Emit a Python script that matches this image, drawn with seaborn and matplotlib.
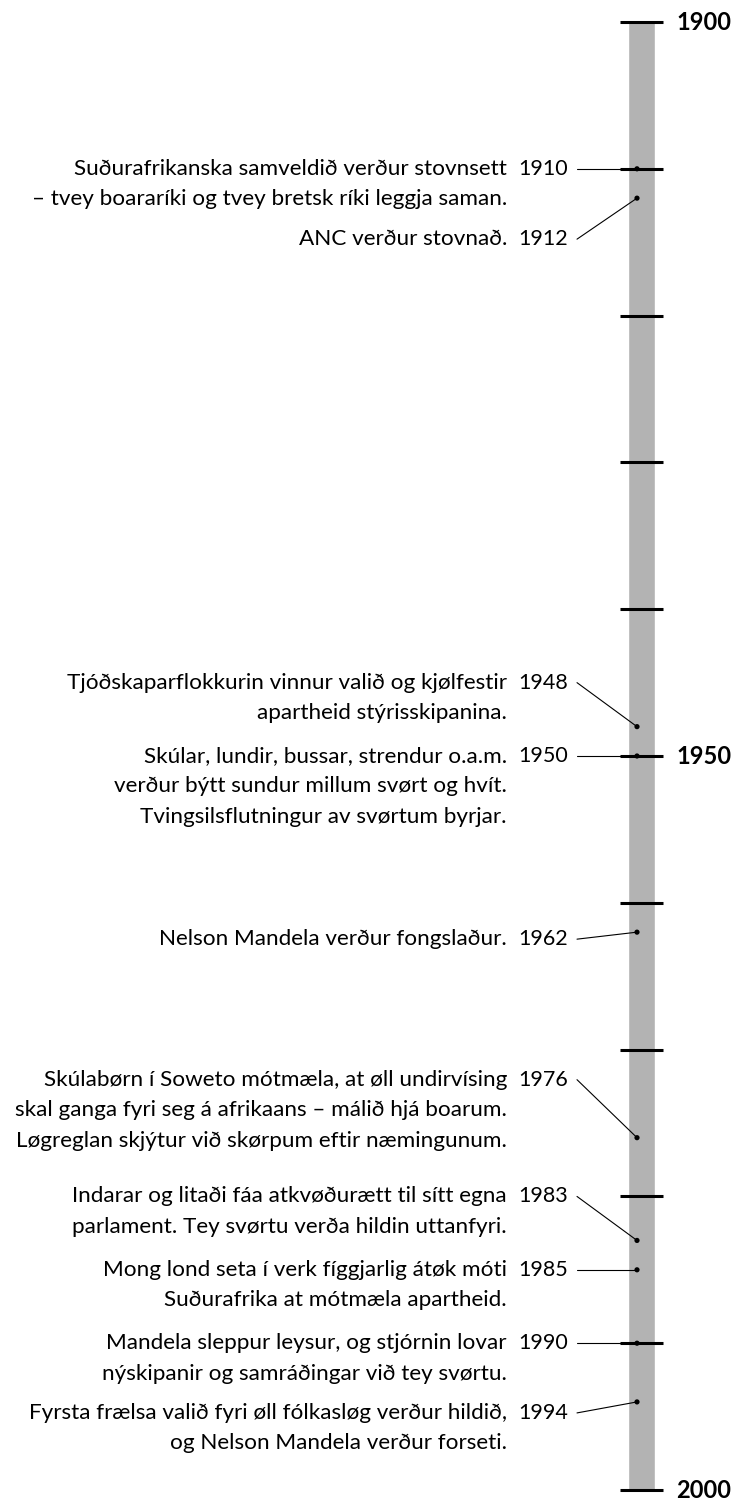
import matplotlib.pyplot as plt
import seaborn as sns
import pandas as pd

# timeline data
years = [1910, 1912, 1948, 1950, 1962, 1976, 1983, 1985, 1990, 1994]
events = [
    "Suðurafrikanska samveldið verður stovnsett\n– tvey boararíki og tvey bretsk ríki leggja saman.",
    "ANC verður stovnað.",
    "Tjóðskaparflokkurin vinnur valið og kjølfestir\napartheid stýrisskipanina.",
    "Skúlar, lundir, bussar, strendur o.a.m.\nverður býtt sundur millum svørt og hvít.\nTvingsilsflutningur av svørtum byrjar.",
    "Nelson Mandela verður fongslaður.",
    "Skúlabørn í Soweto mótmæla, at øll undirvísing\nskal ganga fyri seg á afrikaans – málið hjá boarum.\nLøgreglan skjýtur við skørpum eftir næmingunum.",
    "Indarar og litaði fáa atkvøðurætt til sítt egna\nparlament. Tey svørtu verða hildin uttanfyri.",
    "Mong lond seta í verk fíggjarlig átøk móti\nSuðurafrika at mótmæla apartheid.",
    "Mandela sleppur leysur, og stjórnin lovar\nnýskipanir og samráðingar við tey svørtu.",
    "Fyrsta frælsa valið fyri øll fólkasløg verður hildið,\nog Nelson Mandela verður forseti.",
]
decades = list(range(1900, 2001, 10))
bold_years = [1900, 1950, 2000]

# layout (pixels)
PX = 14.68                     # pixels per year
TOP = 22                       # pixel row of 1900
label_shift = [0, 41, -44, 0, 7, -58, -44, 0, 0, 11]
LINE = 30.5

df = pd.DataFrame({"year": years, "event": events})

sns.set_theme(style="white")
plt.rcParams["font.family"] = ["Lato", "DejaVu Sans"]
plt.rcParams["text.color"] = "black"

fig = plt.figure(figsize=(7.33, 15.01), dpi=100)
ax = fig.add_axes([0, 0, 1, 1])
ax.set_xlim(0, 733)
ax.set_ylim(1900 + (1501 - TOP) / PX, 1900 - TOP / PX)
ax.axis("off")

# gray bar with decade ticks
ax.bar(641.5, 100, bottom=1900, width=27, color="#b3b3b3", zorder=1)
ax.hlines(decades, 620, 663, color="black", lw=2.2, zorder=2)

for y in bold_years:
    ax.text(676, y, str(y), ha="left", va="center", fontsize=17,
            fontweight="bold")

for _, row in df.iterrows():
    ly = row.year + label_shift[_] / PX
    ax.plot([577, 637], [ly, row.year], color="black", lw=0.8, zorder=3)
    ax.text(568, ly, str(row.year), ha="right", va="center", fontsize=15.5)
    for i, line in enumerate(row.event.split("\n")):
        ax.text(507, ly + i * LINE / PX, line, ha="right", va="center",
                fontsize=16.2)

sns.scatterplot(x=[637] * len(years), y=years, ax=ax, color="black",
                s=14, edgecolor="none", zorder=4, legend=False)

fig.savefig("out.png", dpi=100)
